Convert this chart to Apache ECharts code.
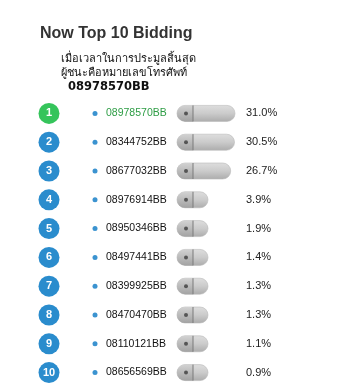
<!DOCTYPE html>
<html><head><meta charset="utf-8">
<script src="https://cdn.jsdelivr.net/npm/echarts@6/dist/echarts.min.js"></script>
<style>html,body{margin:0;padding:0;background:#fff}#c{width:360px;height:392px}</style>
</head><body><div id="c"></div>
<script>
const titleText = 'Now Top 10 Bidding';
const subLine1 = 'เมื่อเวลาในการประมูลสิ้นสุด';
const subLine2 = 'ผู้ชนะคือหมายเลขโทรศัพท์';
const winner = '08978570BB';
const ranks = ['1','2','3','4','5','6','7','8','9','10'];
const numbers = ['08978570BB','08344752BB','08677032BB','08976914BB','08950346BB','08497441BB','08399925BB','08470470BB','08110121BB','08656569BB'];
const shares = [31.0, 30.5, 26.7, 3.9, 1.9, 1.4, 1.3, 1.3, 1.1, 0.9];
const pctLabels = ['31.0%','30.5%','26.7%','3.9%','1.9%','1.4%','1.3%','1.3%','1.1%','0.9%'];

const GREEN = '#35c45b', BLUE = '#2a8ccd';
const gTop = 99, gH = 288;
const AXMIN = -27;
const chart = echarts.init(document.getElementById('c'), null, {renderer:'canvas'});
const catAxis = (gi) => ({type:'category', gridIndex:gi, data:ranks, inverse:true, show:false});
const unitX = (gi) => ({type:'value', gridIndex:gi, min:0, max:1, show:false});

chart.setOption({
  backgroundColor:'#fff',
  animation:false,
  title:[
    {text:titleText, left:40, top:26, padding:0, textStyle:{fontFamily:'Liberation Sans, Arial, sans-serif', fontSize:16, fontWeight:'bold', color:'#333'}},
    {text:subLine1, left:61, top:53, padding:0, textStyle:{fontFamily:'Noto Sans, DejaVu Sans, sans-serif', fontSize:11, fontWeight:'normal', color:'#111'}},
    {text:subLine2, left:61, top:67.5, padding:0, textStyle:{fontFamily:'Noto Sans, DejaVu Sans, sans-serif', fontSize:11, fontWeight:'normal', color:'#111'}},
    {text:winner, left:68, top:81, padding:0, textStyle:{fontFamily:'DejaVu Sans, sans-serif', fontSize:11.5, fontWeight:'bold', color:'#111'}}
  ],
  grid:[
    {left:39, width:20, top:gTop, height:gH},
    {left:90, width:10, top:gTop, height:gH},
    {left:177, right:125, top:gTop, height:gH}
  ],
  xAxis:[unitX(0), unitX(1), {type:'value', gridIndex:2, min:AXMIN, max:31, show:false}],
  yAxis:[catAxis(0), catAxis(1), catAxis(2),
    {type:'category', gridIndex:2, data:pctLabels, inverse:true, position:'right',
     axisLine:{show:false}, axisTick:{show:false}, splitLine:{show:false},
     axisLabel:{margin:11, color:'#222', fontFamily:'Liberation Sans, Arial, sans-serif', fontSize:11}}
  ],
  series:[
    {type:'scatter', xAxisIndex:0, yAxisIndex:0, symbol:'circle', symbolSize:21,
     data: ranks.map((r,i)=>({value:[0.5, i], itemStyle:{color: i===0?GREEN:BLUE, opacity:1}})),
     label:{show:true, position:'inside', formatter:(p)=>ranks[p.dataIndex], color:'#fff', fontWeight:'bold', fontSize:11, fontFamily:'Liberation Sans, Arial, sans-serif'}},
    {type:'scatter', xAxisIndex:1, yAxisIndex:1, symbol:'circle', symbolSize:5, itemStyle:{color:'#3b93d0', opacity:1},
     data: numbers.map((n,i)=>({value:[0.5, i], label:{color: i===0?'#2e9d45':'#111'}})),
     label:{show:true, position:'right', distance:8.5, formatter:(p)=>numbers[p.dataIndex], fontSize:10.5, fontFamily:'Liberation Sans, Arial, sans-serif'}},
    {type:'custom', xAxisIndex:2, yAxisIndex:2,
     data: shares.map((v,i)=>[v,i]),
     renderItem:(params, api)=>{
       const idx = api.value(1);
       const start = api.coord([AXMIN, idx]);
       const end = api.coord([api.value(0), idx]);
       const x0 = start[0], y = start[1];
       const w = Math.max(end[0]-x0, 31);
       const bh = 16;
       return {type:'group', children:[
         {type:'rect', shape:{x:x0, y:y-bh/2, width:w, height:bh, r:bh/2},
          style:{fill:new echarts.graphic.LinearGradient(0,0,0,1,[{offset:0,color:'#dedede'},{offset:0.5,color:'#cbcbcb'},{offset:1,color:'#acacac'}]), stroke:'#b8b8b8', lineWidth:0.6}},
         {type:'rect', shape:{x:x0, y:y-bh/2, width:16, height:bh, r:[bh/2,0,0,bh/2]},
          style:{fill:new echarts.graphic.LinearGradient(0,0,0,1,[{offset:0,color:'#d2d2d2'},{offset:1,color:'#a3a3a3'}])}},
         {type:'line', shape:{x1:x0+16, y1:y-bh/2, x2:x0+16, y2:y+bh/2}, style:{stroke:'#7a7a7a', lineWidth:1}},
         {type:'circle', shape:{cx:x0+9, cy:y, r:2}, style:{fill:'#555'}}
       ]};
     }}
  ]
});
</script></body></html>
